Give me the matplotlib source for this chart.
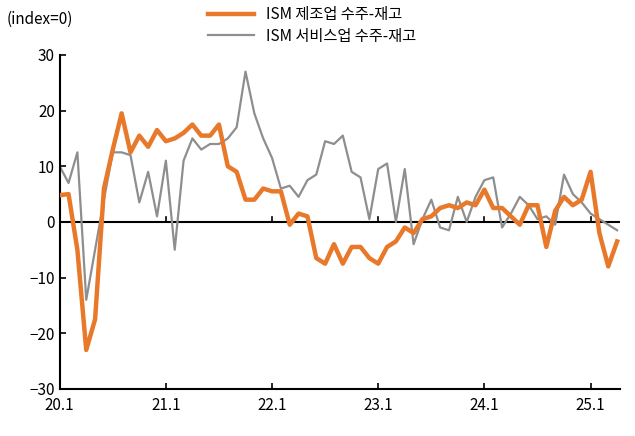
import matplotlib.pyplot as plt
import numpy as np

plt.rcParams["font.family"] = ["Noto Sans CJK JP", "Noto Sans CJK KR", "DejaVu Sans"]

manuf = [4.8, 5, -5, -23, -17.5, 6, 13, 19.5, 12.5, 15.5, 13.5, 16.5,
         14.5, 15, 16, 17.5, 15.5, 15.5, 17.5, 10, 9, 4, 4, 6,
         5.5, 5.5, -0.5, 1.5, 1, -6.5, -7.5, -4, -7.5, -4.5, -4.5, -6.5,
         -7.5, -4.5, -3.5, -1, -2, 0.5, 1, 2.5, 3, 2.5, 3.5, 3,
         5.8, 2.5, 2.5, 1, -0.5, 3, 3, -4.5, 2, 4.5, 3, 4,
         9, -2, -8, -3.5]
service = [10, 7, 12.5, -14, -5, 4, 12.5, 12.5, 12, 3.5, 9, 1,
           11, -5, 11, 15, 13, 14, 14, 15, 17, 27, 19.5, 15,
           11.5, 6, 6.5, 4.5, 7.5, 8.5, 14.5, 14, 15.5, 9, 8, 0.5,
           9.5, 10.5, 0, 9.5, -4, 0.5, 4, -1, -1.5, 4.5, 0, 4.5,
           7.5, 8, -1, 1.5, 4.5, 3, 0.5, 1, -0.5, 8.5, 5, 3.5,
           1.5, 0.5, -0.5, -1.5]
tick_labels = ["20.1", "21.1", "22.1", "23.1", "24.1", "25.1"]

x = np.arange(len(manuf))
fig = plt.figure(figsize=(6.35, 4.36), dpi=100)
ax = fig.add_axes([0.094, 0.108, 0.882, 0.766])
ax.plot(x, manuf, color="#E8792B", lw=3.2, label="ISM 제조업 수주-재고", zorder=3)
ax.plot(x, service, color="#8E8E8E", lw=1.6, label="ISM 서비스업 수주-재고", zorder=2)
ax.axhline(0, color="black", lw=1.5, zorder=1)
ticks = np.arange(0, 61, 12)
for t in ticks[1:]:
    ax.plot([t, t], [0, 0.8], color="black", lw=1.2, zorder=1)
ax.set_xlim(0, 63.3)
ax.set_ylim(-30, 30)
ax.set_yticks(range(-30, 31, 10))
ax.set_xticks(ticks)
ax.set_xticklabels(tick_labels)
ax.tick_params(labelsize=11, length=4, width=1.2, direction="in")
ax.tick_params(axis="x", pad=6)
for s in ["top", "right"]:
    ax.spines[s].set_visible(False)
for s in ["left", "bottom"]:
    ax.spines[s].set_linewidth(1.5)
fig.text(0.01, 0.955, "(index=0)", fontsize=11, va="center")
ax.legend(loc="lower left", bbox_to_anchor=(0.24, 0.99), frameon=False,
          fontsize=11, handlelength=3, labelspacing=0.3)
fig.savefig("out.png", dpi=100)
